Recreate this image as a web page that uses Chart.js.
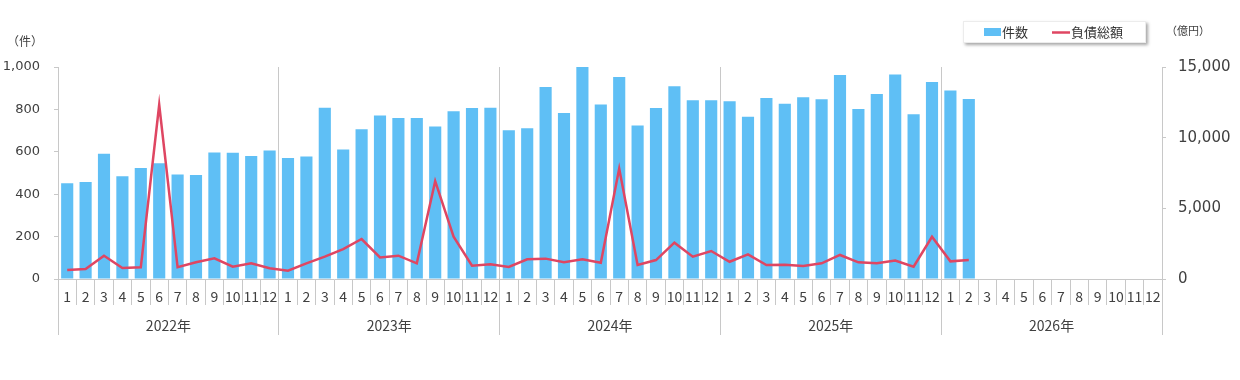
<!DOCTYPE html>
<html><head><meta charset="utf-8">
<script src="https://cdn.jsdelivr.net/npm/chart.js@4"></script>
<style>html,body{margin:0;padding:0;background:#fff}#wrap{width:1240px;height:380px;position:relative}</style>
</head><body><div id="wrap"><canvas id="c" width="1240" height="380"></canvas></div>
<script>
const years = ['2022年','2023年','2024年','2025年','2026年'];
const months = ['1','2','3','4','5','6','7','8','9','10','11','12'];
// 件数 (left axis)
const count2022 = [452,457,591,485,523,546,493,490,597,595,580,606];
const count2023 = [571,578,808,611,706,771,760,760,719,791,807,808];
const count2024 = [702,711,906,783,1000,823,953,724,807,909,843,843];
const count2025 = [838,765,854,827,857,848,962,802,873,965,777,929];
const count2026 = [889,849,null,null,null,null,null,null,null,null,null,null];
// 負債総額 (億円, right axis)
const debt2022 = [640,700,1650,780,830,12330,830,1180,1460,870,1110,760];
const debt2023 = [590,1100,1580,2120,2830,1530,1650,1110,6920,2990,940,1040];
const debt2024 = [850,1390,1440,1180,1390,1150,7820,990,1340,2570,1580,1980];
const debt2025 = [1220,1740,990,1010,920,1110,1700,1180,1110,1300,870,2990];
const debt2026 = [1250,1340,null,null,null,null,null,null,null,null,null,null];
const countTicks = { min: 0, max: 1000, step: 200 };
const debtTicks = { min: 0, max: 15000, step: 5000 };

const labels = years.flatMap(() => months);
const counts = [...count2022, ...count2023, ...count2024, ...count2025, ...count2026];
const debts = [...debt2022, ...debt2023, ...debt2024, ...debt2025, ...debt2026];

const GRID = '#c8c8c8';
const TXT = '#404040';
const JP = '"Noto Sans CJK JP", "Noto Sans", sans-serif';

const extras = {
  id: 'extras',
  afterDraw(chart) {
    const ctx = chart.ctx;
    ctx.save();
    // legend box
    ctx.shadowColor = 'rgba(0,0,0,0.35)';
    ctx.shadowOffsetX = 2; ctx.shadowOffsetY = 2; ctx.shadowBlur = 3;
    ctx.fillStyle = '#ffffff';
    ctx.fillRect(963, 21, 183, 22);
    ctx.shadowColor = 'transparent';
    ctx.strokeStyle = '#ececec'; ctx.lineWidth = 1;
    ctx.strokeRect(963.5, 21.5, 182, 21);
    const ds = chart.data.datasets;
    ctx.font = '13px ' + JP;
    ctx.textBaseline = 'middle';
    ctx.fillStyle = ds[0].backgroundColor;
    ctx.fillRect(984, 28, 17, 8);
    ctx.fillStyle = '#333';
    ctx.textAlign = 'left';
    ctx.fillText(ds[0].label, 1002, 32.5);
    ctx.strokeStyle = ds[1].borderColor; ctx.lineWidth = 2.5;
    ctx.beginPath(); ctx.moveTo(1052, 32.5); ctx.lineTo(1070, 32.5); ctx.stroke();
    ctx.fillStyle = '#333';
    ctx.fillText(ds[1].label, 1071, 32.5);
    // unit labels
    ctx.fillStyle = TXT;
    ctx.textAlign = 'center';
    ctx.font = '12px ' + JP;
    ctx.fillText('（件）', 25, 41);
    ctx.font = '11px ' + JP;
    ctx.fillText('（億円）', 1188, 31);
    ctx.restore();
  }
};

new Chart(document.getElementById('c'), {
  type: 'bar',
  data: {
    labels,
    datasets: [
      { label: '件数', data: counts, backgroundColor: '#5FBFF5', barPercentage: 0.66, categoryPercentage: 1, yAxisID: 'y', xAxisID: 'x', order: 2 },
      { type: 'line', label: '負債総額', data: debts, borderColor: '#DF4662', backgroundColor: '#DF4662', borderWidth: 2.5, pointRadius: 0, tension: 0, yAxisID: 'y1', xAxisID: 'x', order: 1, spanGaps: false }
    ]
  },
  options: {
    responsive: false, animation: false, devicePixelRatio: 1,
    layout: { padding: { top: 67, bottom: 45, left: 0, right: 0 } },
    plugins: { legend: { display: false }, tooltip: { enabled: false } },
    scales: {
      x: {
        type: 'category', position: 'bottom', offset: true, weight: 0,
        grid: {
          offset: true, drawOnChartArea: true, tickLength: 26, lineWidth: 1,
          color: c => (c.type !== 'tick' || c.index % 12 === 0) ? GRID : 'rgba(0,0,0,0)',
          tickColor: GRID
        },
        border: { display: true, color: GRID },
        ticks: { autoSkip: false, maxRotation: 0, minRotation: 0, padding: -17, color: TXT, font: { family: JP, size: 14 } },
        afterFit: s => { s.height = 26; }
      },
      x2: {
        type: 'category', position: 'bottom', labels: years, offset: true, weight: 1,
        grid: { offset: true, drawOnChartArea: false, tickLength: 30, color: GRID, tickColor: GRID },
        border: { display: false },
        ticks: { autoSkip: false, maxRotation: 0, padding: -18, color: TXT, font: { family: JP, size: 14 } },
        afterFit: s => { s.height = 30; }
      },
      y: {
        position: 'left', min: countTicks.min, max: countTicks.max,
        grid: { drawOnChartArea: false, tickLength: 4, color: GRID },
        border: { display: true, color: GRID },
        ticks: { stepSize: countTicks.step, padding: 14, color: TXT, font: { family: 'DejaVu Sans', size: 13 },
                 callback: v => v.toLocaleString('en-US') },
        afterFit: s => { s.width = 58; }
      },
      y1: {
        position: 'right', min: debtTicks.min, max: debtTicks.max,
        grid: { drawOnChartArea: false, tickLength: 4, color: GRID },
        border: { display: true, color: GRID },
        ticks: { stepSize: debtTicks.step, padding: 12, color: TXT, font: { family: 'DejaVu Sans', size: 15 },
                 callback: v => v.toLocaleString('en-US') },
        afterFit: s => { s.width = 78; }
      }
    }
  },
  plugins: [extras]
});
</script></body></html>
